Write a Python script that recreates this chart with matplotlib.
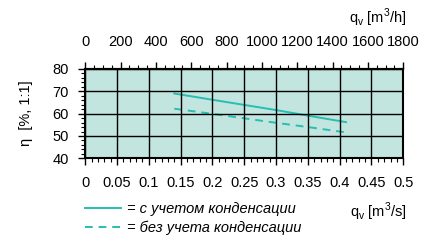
import numpy as np
import matplotlib
matplotlib.use("Agg")
import matplotlib.pyplot as plt
from matplotlib.ticker import MultipleLocator, FixedLocator
from matplotlib.lines import Line2D

plt.rcParams['font.family'] = ['Liberation Sans', 'DejaVu Sans']
plt.rcParams['font.size'] = 10.5

# airflow [m3/s] and efficiency [%]
q_with = [0.14, 0.20, 0.25, 0.30, 0.35, 0.41]
eta_with = [69.0, 66.2, 63.9, 61.6, 59.1, 56.2]
q_without = [0.14, 0.20, 0.25, 0.30, 0.35, 0.41]
eta_without = [62.2, 59.9, 57.9, 55.9, 54.0, 51.6]

top_ticks = [0, 200, 400, 600, 800, 1000, 1200, 1400, 1600, 1800]
labels = ['= с учетом конденсации', '= без учета конденсации']

teal = '#26bfb2'
bg = '#c2e5e0'

fig = plt.figure(figsize=(4.35, 2.41), dpi=100)
ax = fig.add_axes([0.196, 0.343, 0.731, 0.371])
ax.set_facecolor(bg)

ax.plot(q_with, eta_with, color=teal, lw=1.4)
ax.plot(q_without, eta_without, color=teal, lw=1.4, ls=(0, (4, 3)))

ax.set_xlim(0, 0.5)
ax.set_ylim(40, 80)
ax.xaxis.set_minor_locator(MultipleLocator(0.01))
ax.yaxis.set_major_locator(MultipleLocator(10))
ax.yaxis.set_minor_locator(MultipleLocator(2))
ax.set_xticks(np.arange(0, 0.501, 0.05))
ax.set_xticklabels(['0', '0.05', '0.1', '0.15', '0.2', '0.25', '0.3', '0.35', '0.4', '0.45', '0.5'])
ax.grid(True, which='major', color='black', lw=1.0)
ax.set_axisbelow(False)
for s in ax.spines.values():
    s.set_linewidth(1.5)
ax.tick_params(axis='x', which='major', direction='out', length=5, width=1, pad=8)
ax.tick_params(axis='y', which='major', direction='out', length=5, width=1, pad=7)
ax.tick_params(which='minor', direction='out', length=3, width=0.8)

ax.set_ylabel('η  [%, 1:1]', labelpad=14)

# top axis in m3/h
top = ax.secondary_xaxis('top', functions=(lambda x: x * 3600, lambda x: x / 3600))
top.xaxis.set_major_locator(FixedLocator(top_ticks))
top.xaxis.set_minor_locator(MultipleLocator(50))
top.tick_params(which='major', direction='out', length=5, width=1, pad=9)
top.tick_params(which='minor', direction='out', length=3, width=0.8)
top.spines['top'].set_linewidth(1.5)

fig.text(0.936, 0.878, 'q$_\\mathregular{v}$ [m$^\\mathregular{3}$/h]', ha='right', va='bottom')
fig.text(0.936, 0.075, 'q$_\\mathregular{v}$ [m$^\\mathregular{3}$/s]', ha='right', va='bottom')

handles = [Line2D([], [], color=teal, lw=1.4),
           Line2D([], [], color=teal, lw=1.4, ls=(0, (4, 3)))]
leg = fig.legend(handles, labels, loc='upper left', bbox_to_anchor=(0.195, 0.16),
                 frameon=False, handlelength=2.5, handletextpad=0.4,
                 labelspacing=0.3, borderpad=0, borderaxespad=0,
                 prop={'style': 'italic', 'size': 10.5})

fig.savefig('out.png', dpi=100)
